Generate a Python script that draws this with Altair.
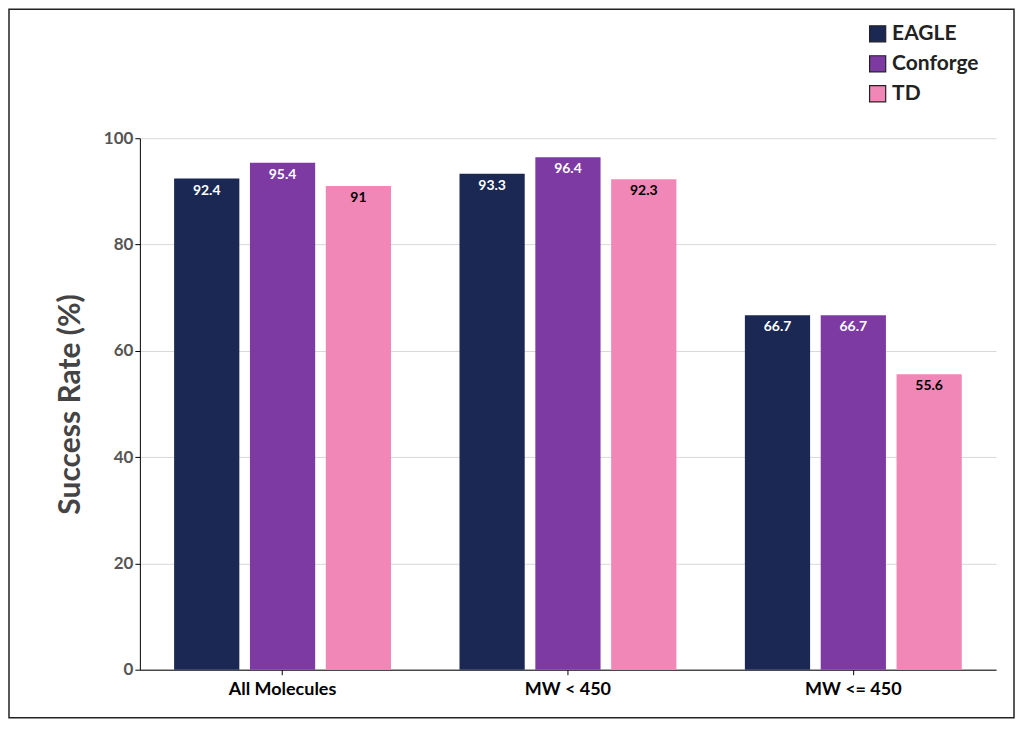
import altair as alt
import pandas as pd

groups = ["All Molecules", "MW < 450", "MW <= 450"]
methods = ["EAGLE", "Conforge", "TD"]
eagle = [92.4, 93.3, 66.7]
conforge = [95.4, 96.4, 66.7]
td = [91, 92.3, 55.6]
colors = ["#1b2853", "#7d3aa3", "#f087b6"]
label_colors = ["white", "white", "black"]

rows = []
for i, g in enumerate(groups):
    for m, vals, lc in zip(methods, [eagle, conforge, td], label_colors):
        rows.append({"group": g, "method": m, "value": vals[i], "lc": lc,
                     "label": f"{vals[i]:g}"})
data = pd.DataFrame(rows)

base = alt.Chart(data).encode(
    alt.X("group:N", sort=groups, title=None).scale(paddingInner=0.24, paddingOuter=0.12)
    .axis(labelAngle=0, labelFontSize=18, labelFontWeight="bold", labelColor="black",
          domainColor="black", tickColor="black", labelPadding=6),
    alt.XOffset("method:N", sort=methods).scale(paddingInner=0.14),
)

bars = base.mark_bar().encode(
    alt.Y("value:Q", title="Success Rate (%)").scale(domain=[0, 100])
    .axis(values=[0, 20, 40, 60, 80, 100], labelFontSize=17, labelFontWeight="bold",
          labelColor="#555", titleFontSize=30, titleColor="#444", titleFontWeight="bold",
          titlePadding=18, domainColor="black", tickColor="black", gridColor="#d9d9d9"),
    alt.Color("method:N", sort=methods, title=None).scale(domain=methods, range=colors)
    .legend(orient="none", legendX=728, legendY=-115, symbolType="square", symbolSize=260,
            symbolStrokeColor="#222", symbolStrokeWidth=1.2, labelFontSize=21,
            labelFontWeight="bold", labelColor="#222", rowPadding=8, symbolOpacity=1),
)

labels = base.mark_text(dy=12, fontSize=14, fontWeight="bold").encode(
    alt.Y("value:Q"),
    alt.Text("label:N"),
    alt.Color("lc:N", scale=None),
)

frame = alt.Chart(pd.DataFrame({"a": [0]})).mark_rect(
    fill=None, stroke="#222", strokeWidth=1.5, clip=False
).encode(x=alt.value(-131), x2=alt.value(875), y=alt.value(-129), y2=alt.value(580))

chart = (bars + labels + frame).properties(
    width=857, height=532,
    autosize=alt.AutoSizeParams(type="none"),
    padding={"left": 132, "top": 130, "right": 20, "bottom": 50},
).configure_view(stroke=None).configure_axis(labelFont="Lato", titleFont="Lato").configure_legend(
    labelFont="Lato").configure_text(font="Lato")

chart.save("out.html", embed_options={"renderer": "svg", "actions": False})
